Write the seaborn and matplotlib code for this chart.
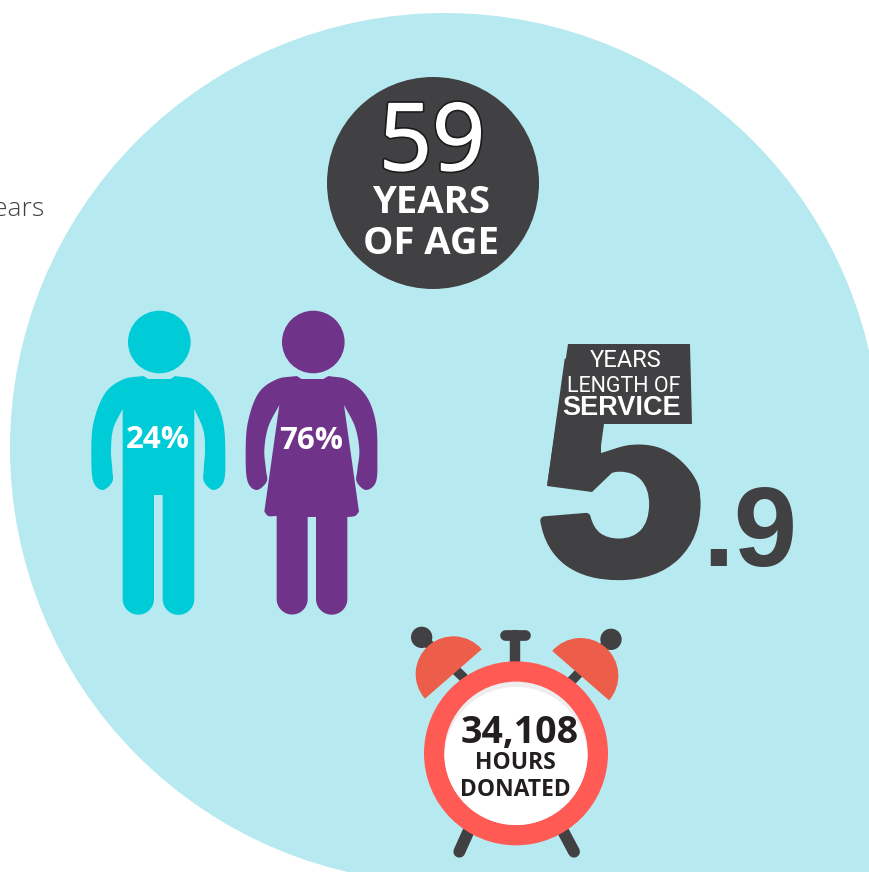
import numpy as np
import matplotlib
matplotlib.use("Agg")
import matplotlib.pyplot as plt
import matplotlib.patheffects as pe
from matplotlib.patches import Circle, Polygon, Rectangle, Wedge
import seaborn as sns

# Headline figures of the volunteer profile
average_age = 59
percent_male = 24
percent_female = 76
years_of_service = 5.9
hours_donated = 34108

age_labels = ["YEARS", "OF AGE"]
service_labels = ["YEARS", "LENGTH OF", "SERVICE"]
hours_labels = ["HOURS", "DONATED"]

sns.set_theme(style="white")
SKY, INK, TEAL, PLUM, CORAL, BELL = sns.color_palette(
    ["#B7EAF0", "#414042", "#00CCD8", "#6F3489", "#FF5A54", "#EC5D4A"])
DARK_TEXT = "#231F20"

OPEN = "Open Sans"
ARIAL = "Liberation Sans"
NARROW = "Roboto"


def smooth(points, steps=14):
    """Catmull-Rom curve through the listed outline points."""
    p = np.asarray(points, dtype=float)
    if len(p) < 3:
        return p
    p = np.vstack([2 * p[0] - p[1], p, 2 * p[-1] - p[-2]])
    out = []
    for i in range(1, len(p) - 2):
        for t in np.linspace(0, 1, steps, endpoint=False):
            out.append(0.5 * (2 * p[i] + (p[i + 1] - p[i - 1]) * t
                              + (2 * p[i - 1] - 5 * p[i] + 4 * p[i + 1] - p[i + 2]) * t ** 2
                              + (3 * p[i] - p[i - 1] - 3 * p[i + 1] + p[i + 2]) * t ** 3))
    out.append(p[-2])
    return np.array(out)


def foot(cx, cy, r):
    """Round end of a leg, from its right side to its left side."""
    a = np.linspace(0, np.pi, 24)
    return np.column_stack([cx + r * np.cos(a), cy + r * np.sin(a)])


def outline(sections, origin=(0, 0), scale=1.0):
    """Join smooth sections; corners fall where one section meets the next."""
    pts = np.vstack([smooth(s) for s in sections])
    return pts * scale + np.asarray(origin)


fig = plt.figure(figsize=(8.69, 8.72), dpi=100, facecolor="white")
ax = fig.add_axes([0, 0, 1, 1])
ax.set_xlim(0, 869)
ax.set_ylim(872, 0)
ax.set_axis_off()
sns.despine(ax=ax, left=True, bottom=True)

# Pale backdrop: a large disc whose lower right quarter is squared off past the page corner
ax.add_patch(Circle((445, 448), 435, fc=SKY, ec="none", zorder=1))
ax.add_patch(Rectangle((445, 448), 440, 440, fc=SKY, ec="none", zorder=1))

ax.text(44, 216, "years", family=OPEN, weight="light", fontsize=19, color=INK,
        ha="right", va="baseline", zorder=2)

# Age badge
ax.add_patch(Circle((433, 183), 106, fc=INK, ec="none", zorder=2))
ax.text(432, 170, str(average_age), family=OPEN, weight="normal", fontsize=67, color="white",
        ha="center", va="baseline", zorder=3,
        path_effects=[pe.Stroke(linewidth=3.4, foreground="#1c1a1b"),
                      pe.Stroke(linewidth=1.0, foreground="white"), pe.Normal()])
for label, base in zip(age_labels, (213, 254)):
    ax.text(431, base, label, family=OPEN, weight="bold", fontsize=27.5, color="white",
            ha="center", va="baseline", zorder=3)

# Male figure
PERSON_ORIGIN = (80, 300)
male = [
    [(190, 228), (205, 237)],
    [(205, 237), (272, 237)],
    [(272, 237), (285, 228)],
    [(285, 228), (345, 240), (400, 290), (430, 370), (436, 470), (431, 545),
     (400, 570), (372, 545), (371, 510), (375, 450), (370, 390), (343, 327)],
    [(343, 327), (343, 897)],
    foot(295.5, 897, 47.5),
    [(248, 897), (248, 585)],
    [(248, 585), (222, 585)],
    [(222, 585), (222, 897)],
    foot(175, 897, 47),
    [(128, 897), (128, 327)],
    [(128, 327), (100, 385), (93, 450), (97, 510), (97, 545), (68, 570), (40, 545),
     (34, 470), (40, 370), (75, 280), (130, 238), (190, 228)],
]
ax.add_patch(Polygon(outline(male, PERSON_ORIGIN, 1 / 3), closed=True, fc=TEAL, ec="none", zorder=2))
ax.add_patch(Circle((159.3, 342), 31.3, fc=TEAL, ec="none", zorder=2))
ax.text(157.5, 448, f"{percent_male}%", family=OPEN, weight="bold", fontsize=22.5, color="white",
        ha="center", va="baseline", zorder=3)

# Female figure
female = [
    [(650, 228), (665, 237)],
    [(665, 237), (730, 237)],
    [(730, 237), (745, 228)],
    [(745, 228), (805, 240), (860, 290), (888, 370), (892, 470), (888, 545),
     (858, 570), (830, 545), (832, 510), (838, 450), (825, 380), (792, 315)],
    [(792, 315), (837, 635)],
    [(837, 635), (825, 648), (802, 651)],
    [(802, 651), (802, 897)],
    foot(755, 897, 47),
    [(708, 897), (708, 651)],
    [(708, 651), (683, 651)],
    [(683, 651), (683, 897)],
    foot(636.5, 897, 46.5),
    [(590, 897), (590, 648)],
    [(590, 648), (565, 648), (553, 635)],
    [(553, 635), (598, 315)],
    [(598, 315), (565, 380), (553, 450), (558, 510), (560, 545), (530, 570), (503, 545),
     (497, 470), (503, 370), (535, 280), (590, 238), (650, 228)],
]
ax.add_patch(Polygon(outline(female, PERSON_ORIGIN, 1 / 3), closed=True, fc=PLUM, ec="none", zorder=2))
ax.add_patch(Circle((313.3, 342), 31.3, fc=PLUM, ec="none", zorder=2))
ax.text(311.5, 449, f"{percent_female}%", family=OPEN, weight="bold", fontsize=22.5, color="white",
        ha="center", va="baseline", zorder=3)

# Length of service: a heavy numeral reshaped so its top becomes a flag for the caption
whole, tenths = f"{years_of_service:.1f}".split(".")
ax.text(535, 573, whole, family=ARIAL, weight="bold", fontsize=220, color=INK,
        ha="left", va="baseline", zorder=2,
        path_effects=[pe.withStroke(linewidth=6, foreground=INK)])
bowl_shoulder = smooth([(601, 453), (630, 445), (657, 447), (680, 460), (697, 482), (702, 508)])
ax.add_patch(Polygon(np.vstack([bowl_shoulder, [(716, 508), (716, 420), (601, 420)]]),
                     closed=True, fc=SKY, ec="none", zorder=2.5))
ax.add_patch(Polygon([(525, 335), (568, 335), (547, 486), (525, 486)],
                     closed=True, fc=SKY, ec="none", zorder=2.5))
flag = [(568, 344), (690, 344), (692, 424), (604, 424), (600, 453),
        (615, 470), (592, 492), (547, 486)]
ax.add_patch(Polygon(flag, closed=True, fc=INK, ec="none", zorder=2.6))
ax.text(702, 566, "." + tenths, family=ARIAL, weight="bold", fontsize=82, color=INK,
        ha="left", va="baseline", zorder=2)
for label, x, base, fam, weight, size in zip(
        service_labels, (626, 624, 622), (367, 392, 415), (NARROW, NARROW, ARIAL),
        ("normal", "normal", "bold"), (17, 15.5, 19.5)):
    ax.text(x, base, label, family=fam, weight=weight, fontsize=size, color="white",
            ha="center", va="baseline", zorder=3)

# Alarm clock
CLOCK = (400, 620)


def clock_xy(x, y):
    return CLOCK[0] + x / 3, CLOCK[1] + y / 3


def clock_line(a, b, width):
    (x0, y0), (x1, y1) = clock_xy(*a), clock_xy(*b)
    ax.plot([x0, x1], [y0, y1], color=INK, lw=width, solid_capstyle="round", zorder=2)


clock_line((205, 635), (178, 695), 8.6)
clock_line((490, 635), (522, 695), 8.6)
clock_line((346, 46), (346, 130), 7.5)
clock_line((316, 46), (376, 46), 7.7)
clock_line((65, 52), (190, 172), 7)
clock_line((633, 58), (515, 182), 7)
ax.add_patch(Circle(clock_xy(65, 52), 32 / 3, fc=INK, ec="none", zorder=2))
ax.add_patch(Circle(clock_xy(633, 58), 32 / 3, fc=INK, ec="none", zorder=2))
ax.add_patch(Wedge(clock_xy(160, 162), 113 / 3, -221, -41, fc=BELL, ec="none", zorder=3))
ax.add_patch(Wedge(clock_xy(542, 167), 113 / 3, -139, 41, fc=BELL, ec="none", zorder=3))
ax.add_patch(Circle(clock_xy(348, 400), 92, fc=CORAL, ec="none", zorder=4))
face = Circle(clock_xy(348, 400), 71.7, fc="#EEEEEF", ec="none", zorder=5)
ax.add_patch(face)
inner = Circle(clock_xy(348, 416), 71.7, fc="white", ec="none", zorder=6)
ax.add_patch(inner)
inner.set_clip_path(face)

ax.text(520, 743, f"{hours_donated:,}", family=OPEN, weight="bold", fontsize=27, color=DARK_TEXT,
        ha="center", va="baseline", zorder=7)
for label, base in zip(hours_labels, (769, 796)):
    ax.text(515, base, label, family=OPEN, weight="bold", fontsize=16.5, color=DARK_TEXT,
            ha="center", va="baseline", zorder=7)

fig.savefig("out.png", dpi=100, facecolor="white")
